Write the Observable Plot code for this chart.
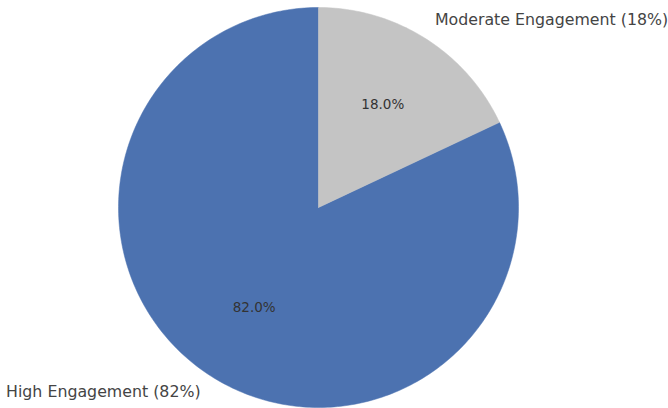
<!DOCTYPE html>
<html>
<head>
<meta charset="utf-8">
<script src="https://cdn.jsdelivr.net/npm/d3@7"></script>
<script src="https://cdn.jsdelivr.net/npm/@observablehq/plot@0.6"></script>
<style>
  html, body { margin: 0; padding: 0; background: #fff; }
  #chart svg { display: block; }
</style>
</head>
<body>
<div id="chart"></div>
<script>
// Engagement split
const categories = ["High Engagement", "Moderate Engagement"];
const values = [82, 18];
const colors = ["#4c72b0", "#c4c4c4"];

const W = 668, H = 408;
const total = d3.sum(values);

// Slices start at 12 o'clock and run counter-clockwise (angles in radians, math convention)
let start = Math.PI / 2;
const slices = categories.map((name, i) => {
  const sweep = (values[i] / total) * 2 * Math.PI;
  const s = { name, value: values[i], pct: values[i] / total * 100, a0: start, a1: start + sweep };
  start += sweep;
  return s;
});

// Wedge outlines in unit-circle coordinates
const wedgePts = slices.flatMap(s => {
  const n = Math.max(8, Math.ceil((s.a1 - s.a0) / (Math.PI / 180)));
  const pts = [{ name: s.name, x: 0, y: 0 }];
  for (let k = 0; k <= n; k++) {
    const a = s.a0 + (s.a1 - s.a0) * k / n;
    pts.push({ name: s.name, x: Math.cos(a), y: Math.sin(a) });
  }
  pts.push({ name: s.name, x: 0, y: 0 });
  return pts;
});

const mid = s => (s.a0 + s.a1) / 2;
const outerLabels = slices.map(s => ({
  text: `${s.name} (${Math.round(s.pct)}%)`,
  x: 1.1 * Math.cos(mid(s)),
  y: 1.1 * Math.sin(mid(s)),
  anchor: Math.cos(mid(s)) < 0 ? "end" : "start"
}));
const innerLabels = slices.map(s => ({
  text: `${s.pct.toFixed(1)}%`,
  x: 0.6 * Math.cos(mid(s)),
  y: 0.6 * Math.sin(mid(s))
}));

const chart = Plot.plot({
  width: W,
  height: H,
  margin: 0,
  x: { domain: [-1.59, 1.75], axis: null },
  y: { domain: [-1.005, 1.035], axis: null },
  color: { domain: categories, range: colors },
  style: { fontFamily: "DejaVu Sans, sans-serif", background: "#fff" },
  marks: [
    Plot.line(wedgePts, { x: "x", y: "y", z: "name", fill: "name", stroke: "name", strokeWidth: 0.5, curve: "linear" }),
    Plot.text(innerLabels, { x: "x", y: "y", text: "text", fontSize: 13.5, fill: "#333", textAnchor: "middle", dy: -1.5 }),
    Plot.text(outerLabels.filter(d => d.anchor === "end"), { x: "x", y: "y", text: "text", fontSize: 15.8, fill: "#444", textAnchor: "end", dy: -1.5 }),
    Plot.text(outerLabels.filter(d => d.anchor === "start"), { x: "x", y: "y", text: "text", fontSize: 15.8, fill: "#444", textAnchor: "start", dx: -1.5, dy: -1.5 })
  ]
});

document.getElementById("chart").appendChild(chart);
</script>
</body>
</html>
